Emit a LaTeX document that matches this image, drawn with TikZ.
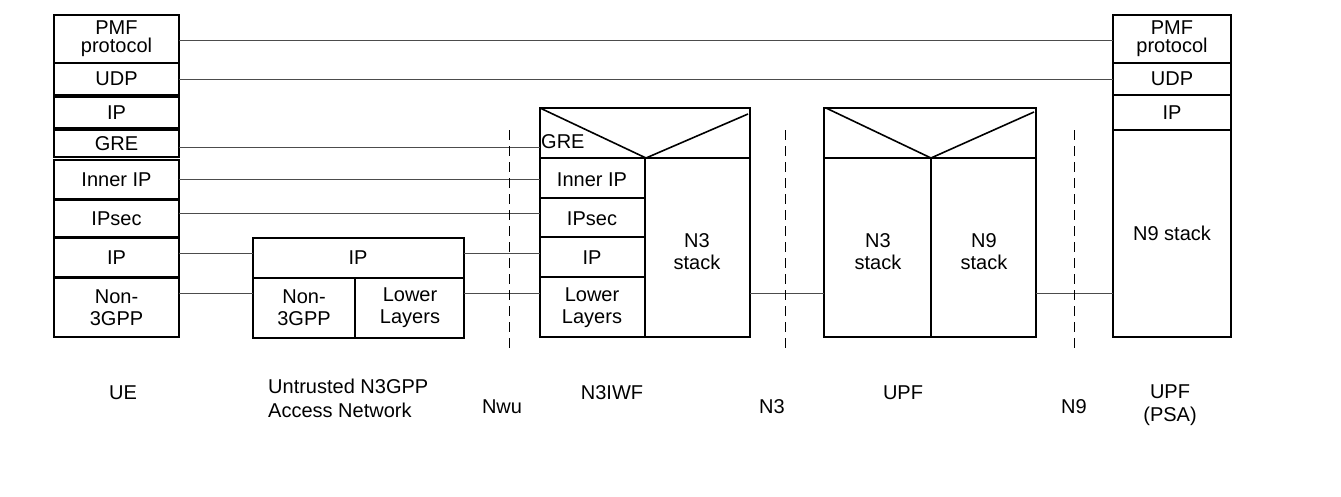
\documentclass[tikz,border=0pt]{standalone}
\usepackage{fontspec}
\setmainfont{Liberation Sans}
\begin{document}
\begin{tikzpicture}[x=1pt,y=-1pt,
  box/.style={draw,line width=1.6pt},
  lbl/.style={font=\fontsize{20}{20}\selectfont,align=center,inner sep=0},
  link/.style={draw=black!70,line width=0.7pt},
  sep/.style={draw,dashed,dash pattern=on 10pt off 6pt,line width=0.8pt}]
\useasboundingbox (0,0) rectangle (1341,496);
% UE
\foreach \a/\b/\t/\n in {15/63/{PMF\\[-2pt]protocol}/ueP,63/95/UDP/ueU,97/128/IP/ueI,130/157/GRE/ueG,160/199/Inner IP/ueII,200/237/IPsec/ueS,238/277/IP/ueO,278/337/{Non-\\[2pt]3GPP}/ueN}{
  \draw[box] (54,\a) rectangle (179,\b);
  \node[lbl] (\n) at (116.5,{(\a+\b)/2}) {\t};
}
% Untrusted
\draw[box] (253,238) rectangle (464,338);
\draw[box] (253,278) -- (464,278) (355,278) -- (355,338);
\node[lbl] (anIP) at (358,258) {IP};
\node[lbl] (anN) at (304,308) {Non-\\[2pt]3GPP};
\node[lbl] (anL) at (410,308) {Lower\\[2pt]Layers};
% N3IWF
\draw[box] (540,108) rectangle (750,337);
\draw[box] (540,158) -- (750,158) (645,158) -- (645,337);
\draw[box] (540,108) -- (646,158) -- (748,114);
\foreach \y in {198,237,277}{\draw[box] (540,\y) -- (645,\y);}
\node[lbl,anchor=west] (nG) at (541,142) {GRE};
\node[lbl] (nII) at (592,180) {Inner IP};
\node[lbl] (nS) at (592,219) {IPsec};
\node[lbl] (nI) at (592,258) {IP};
\node[lbl] (nL) at (592,308) {Lower\\[2pt]Layers};
\node[lbl] (nN3) at (697,252) {N3\\[2pt]stack};
% UPF
\draw[box] (824,108) rectangle (1036,337);
\draw[box] (824,158) -- (1036,158) (931,158) -- (931,337);
\draw[box] (826,108) -- (931,158) -- (1034,112);
\node[lbl] (uN3) at (878,252) {N3\\[2pt]stack};
\node[lbl] (uN9) at (984,252) {N9\\[2pt]stack};
% PSA
\foreach \a/\b/\t/\n in {15/63/{PMF\\[-2pt]protocol}/pP,63/95/UDP/pU,95/130/IP/pI,130/337/N9 stack/pN}{
  \draw[box] (1113,\a) rectangle (1231,\b);
  \node[lbl] (\n) at (1172,{(\a+\b)/2}) {\t};
}
% links
\draw[link] (179,40) -- (1113,40);
\draw[link] (179,79) -- (1113,79);
\draw[link] (179,147) -- (540,147);
\draw[link] (179,179) -- (540,179);
\draw[link] (179,213) -- (540,213);
\draw[link] (179,253) -- (253,253) (464,253) -- (540,253);
\draw[link] (179,293) -- (253,293) (464,293) -- (540,293);
\draw[link] (750,293) -- (824,293);
\draw[link] (1036,293) -- (1113,293);
% separators
\foreach \x in {509,785,1074}{\draw[sep] (\x,130) -- (\x,353);}
% labels
\node[lbl] (lUE) at (123,393) {UE};
\node[lbl,align=left,anchor=west] (lAN) at (268,398) {Untrusted N3GPP\\[4pt]Access Network};
\node[lbl] (lNwu) at (502,407) {Nwu};
\node[lbl] (lN3IWF) at (612,393) {N3IWF};
\node[lbl] (lN3) at (772,407) {N3};
\node[lbl] (lUPF) at (903,393) {UPF};
\node[lbl] (lN9) at (1074,407) {N9};
\node[lbl] (lPSA) at (1170,405) {UPF\\[3pt](PSA)};
\end{tikzpicture}
\end{document}
